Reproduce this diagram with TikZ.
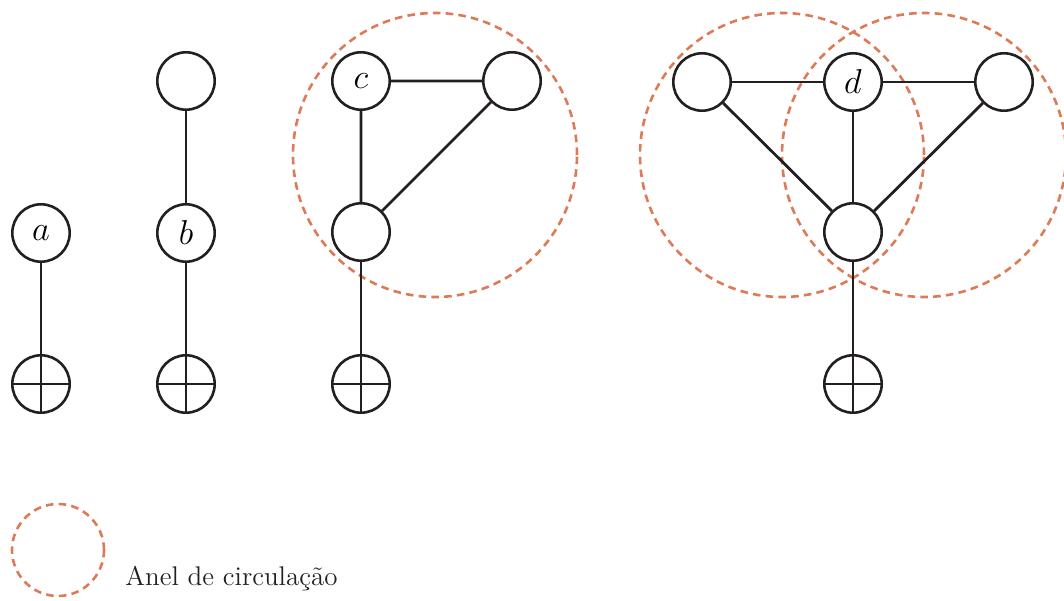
\documentclass[tikz,border=0pt]{standalone}
\usepackage{tikz}
\usetikzlibrary{positioning}

\definecolor{ringorange}{RGB}{221,122,88}
\definecolor{inkblack}{RGB}{35,31,32}

\begin{document}
\begin{tikzpicture}
		[x=0.5pt, y=0.5pt,
		every node/.style={circle, draw=inkblack, line width=1.3pt,
			minimum size=28.7pt, inner sep=0pt,
			font=\fontsize{19}{22}\selectfont},
		ground/.style={path picture={
				\draw[inkblack, line width=1.3pt]
				(path picture bounding box.north) -- (path picture bounding box.south)
				(path picture bounding box.west) -- (path picture bounding box.east);}},
		bond/.style={draw=inkblack, line width=1.4pt},
		ring/.style={draw=ringorange, line width=1.3pt,
			dash pattern=on 3.8pt off 2.6pt},
		]
		\useasboundingbox (0,0) rectangle (1064,600);
		
		% rings drawn first, underneath the graphs
		\draw[ring] (435,445) circle (142);
		\draw[ring] (782,445) circle (142);
		\draw[ring] (924,445) circle (142);
		
		% a
		\node (a) at (41,367) {$a$};
		\node[ground] (ga) at (41,216) {};
		\path[bond] (a) -- (ga);
		
		% b
		\node (bt) at (186,519) {};
		\node (b) at (186,367) {$b$};
		\node[ground] (gb) at (186,216) {};
		\path[bond] (bt) -- (b) -- (gb);
		
		% c
		\node (c) at (361,519) {$c$};
		\node (cr) at (512,519) {};
		\node (cb) at (361,368) {};
		\node[ground] (gc) at (361,216) {};
		\path[bond] (c) -- (cr) -- (cb) -- (c);
		\path[bond] (cb) -- (gc);
		
		% d
		\node (dl) at (702,518) {};
		\node (d) at (853,518) {$d$};
		\node (dr) at (1004,518) {};
		\node (db) at (853,368) {};
		\node[ground] (gd) at (853,216) {};
		\path[bond] (dl) -- (d) -- (dr);
		\path[bond] (dl) -- (db) -- (dr);
		\path[bond] (d) -- (db) -- (gd);
		
		% legend
		\draw[ring] (58,50) circle (46);
		\node[draw=none, rectangle, anchor=base west,
		font=\fontsize{13.5}{16}\selectfont, text=inkblack] (legend) at (124,15)
		{Anel de circulação};
		
	\end{tikzpicture}
\end{document}
